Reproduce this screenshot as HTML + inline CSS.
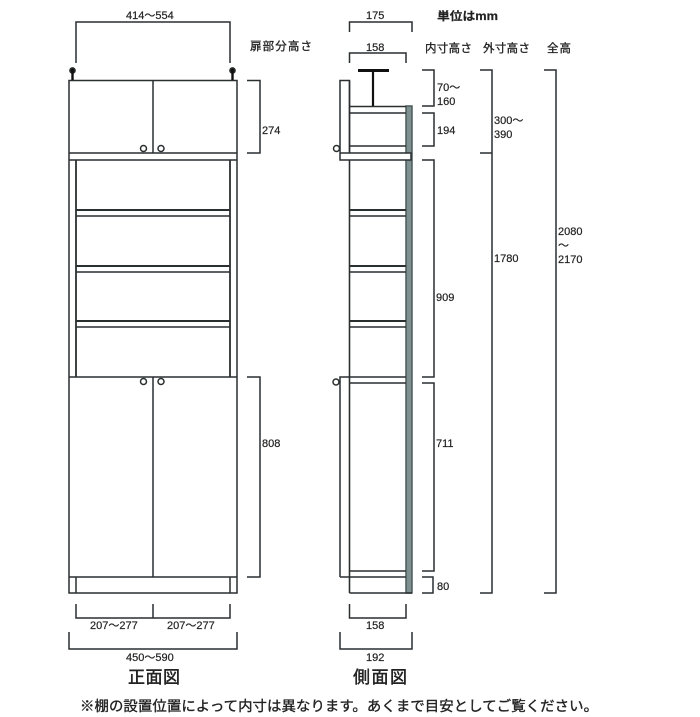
<!DOCTYPE html>
<html lang="ja">
<head>
<meta charset="utf-8">
<style>
html,body{margin:0;padding:0;background:#fff;width:700px;height:717px;overflow:hidden}
svg{display:block;filter:blur(0.3px)}
text{font-family:"Liberation Sans","Noto Sans CJK JP",sans-serif;fill:#222;font-size:11px;stroke:#222;stroke-width:.2}
.j{font-size:11.5px;stroke-width:.3}
.t{font-size:17px;stroke-width:.45}
line,path,rect,circle{stroke:#2a2f30;stroke-width:1.5;fill:none}
</style>
</head>
<body>
<svg width="700" height="717" viewBox="0 0 700 717" xmlns="http://www.w3.org/2000/svg">
<!-- FRONT -->
<rect x="69" y="80.5" width="168" height="512.5"/>
<line x1="153" y1="80" x2="153" y2="153"/>
<line x1="69" y1="153" x2="237" y2="153"/>
<line x1="69" y1="160" x2="237" y2="160"/>
<line x1="76" y1="160" x2="76" y2="377" style="stroke-width:1.8"/>
<line x1="230" y1="160" x2="230" y2="377" style="stroke-width:1.8"/>
<line x1="76" y1="210" x2="230" y2="210" style="stroke-width:2"/>
<line x1="76" y1="216" x2="230" y2="216"/>
<line x1="76" y1="266" x2="230" y2="266" style="stroke-width:2"/>
<line x1="76" y1="272" x2="230" y2="272"/>
<line x1="76" y1="321" x2="230" y2="321" style="stroke-width:2"/>
<line x1="76" y1="327" x2="230" y2="327"/>
<line x1="69" y1="377" x2="237" y2="377"/>
<line x1="153" y1="377" x2="153" y2="577"/>
<line x1="69" y1="577" x2="237" y2="577"/>
<line x1="76" y1="577" x2="76" y2="593"/>
<line x1="230" y1="577" x2="230" y2="593"/>
<circle cx="143.5" cy="148.5" r="3" style="fill:#fff"/>
<circle cx="161" cy="148.5" r="3" style="fill:#fff"/>
<circle cx="143.5" cy="381.5" r="3" style="fill:#fff"/>
<circle cx="161" cy="381.5" r="3" style="fill:#fff"/>
<!-- adjusters -->
<circle cx="72.5" cy="70.5" r="2.6" style="fill:#111"/>
<line x1="72.5" y1="71" x2="72.5" y2="80" style="stroke-width:2.4;stroke:#111"/>
<circle cx="232.5" cy="70.5" r="2.6" style="fill:#111"/>
<line x1="232.5" y1="71" x2="232.5" y2="80" style="stroke-width:2.4;stroke:#111"/>
<!-- front dimensions -->
<path d="M76 63V22H230V63"/>
<path d="M247 80.5H260V153H247"/>
<path d="M247 377H260V577H247"/>
<path d="M76 604V618H230V604M153 604V618"/>
<path d="M69 632V649H237V632"/>
<text x="126" y="19">414～554</text>
<text x="262" y="134">274</text>
<text x="262" y="447">808</text>
<text x="90" y="629">207～277</text>
<text x="167" y="629">207～277</text>
<text x="126" y="661">450～590</text>
<text class="t" x="128" y="683" textLength="52" lengthAdjust="spacing">正面図</text>
<text class="j" x="250" y="50" textLength="62" lengthAdjust="spacing">扉部分高さ</text>
<!-- SIDE -->
<rect x="406" y="106" width="6" height="487" style="fill:#7f9090;stroke:#4c5a5b"/>
<path d="M349.5 153V80.5H340V160H411V153H340" style="fill:#fff"/>
<line x1="349.5" y1="80.5" x2="349.5" y2="153"/>
<line x1="349.5" y1="106.5" x2="406" y2="106.5"/>
<line x1="349.5" y1="113" x2="406" y2="113"/>
<line x1="349.5" y1="146" x2="406" y2="146"/>
<line x1="349.5" y1="160" x2="349.5" y2="593" style="stroke-width:1.6"/>
<line x1="349.5" y1="210" x2="406" y2="210" style="stroke-width:2"/>
<line x1="349.5" y1="216" x2="406" y2="216"/>
<line x1="349.5" y1="266" x2="406" y2="266" style="stroke-width:2"/>
<line x1="349.5" y1="272" x2="406" y2="272"/>
<line x1="349.5" y1="321" x2="406" y2="321" style="stroke-width:2"/>
<line x1="349.5" y1="327" x2="406" y2="327"/>
<path d="M340 577V377H406"/>
<line x1="349.5" y1="383" x2="406" y2="383"/>
<line x1="349.5" y1="571" x2="406" y2="571"/>
<line x1="340" y1="577" x2="406" y2="577"/>
<line x1="349.5" y1="593" x2="412" y2="593"/>
<circle cx="336.5" cy="148.5" r="3" style="fill:#fff"/>
<circle cx="336" cy="382" r="3" style="fill:#fff"/>
<!-- T bracket -->
<line x1="358" y1="70.5" x2="389" y2="70.5" style="stroke-width:3;stroke:#111"/>
<line x1="373" y1="70" x2="373" y2="106" style="stroke-width:2.2;stroke:#111"/>
<!-- side dims -->
<path d="M349.5 32V22H412V32"/>
<path d="M349.5 63V53H406V63"/>
<path d="M349.5 604V618H406V604"/>
<path d="M340 632V649H412V632"/>
<text x="366" y="19">175</text>
<text x="366" y="51">158</text>
<text x="366" y="629">158</text>
<text x="366" y="661">192</text>
<text class="t" x="353" y="683" textLength="54" lengthAdjust="spacing">側面図</text>
<text x="437" y="20" style="font-size:11.5px;font-weight:700" textLength="61" lengthAdjust="spacingAndGlyphs">単位はmm</text>
<text class="j" x="425" y="52" textLength="47" lengthAdjust="spacing">内寸高さ</text>
<text class="j" x="483" y="52" textLength="47" lengthAdjust="spacing">外寸高さ</text>
<text class="j" x="547" y="52" textLength="24" lengthAdjust="spacing">全高</text>
<!-- right dims -->
<path d="M422 70H434V106H422"/>
<path d="M422 113H434V146H422"/>
<path d="M422 160H434V377H422"/>
<path d="M422 383H434V571H422"/>
<path d="M422 577H433V593H422"/>
<path d="M480 70H492V593H480M480 153H492"/>
<path d="M544 70H556V593H544"/>
<text x="437" y="91">70～</text>
<text x="437" y="105">160</text>
<text x="437" y="134">194</text>
<text x="436" y="301">909</text>
<text x="436" y="447">711</text>
<text x="437" y="590">80</text>
<text x="494" y="124">300～</text>
<text x="494" y="138">390</text>
<text x="494" y="262">1780</text>
<text x="558" y="235">2080</text>
<text x="558" y="249">～</text>
<text x="558" y="263">2170</text>
<!-- footer -->
<text x="80" y="711" style="font-size:14.4px;stroke-width:.35" textLength="518" lengthAdjust="spacing">※棚の設置位置によって内寸は異なります。あくまで目安としてご覧ください。</text>
</svg>
</body>
</html>
